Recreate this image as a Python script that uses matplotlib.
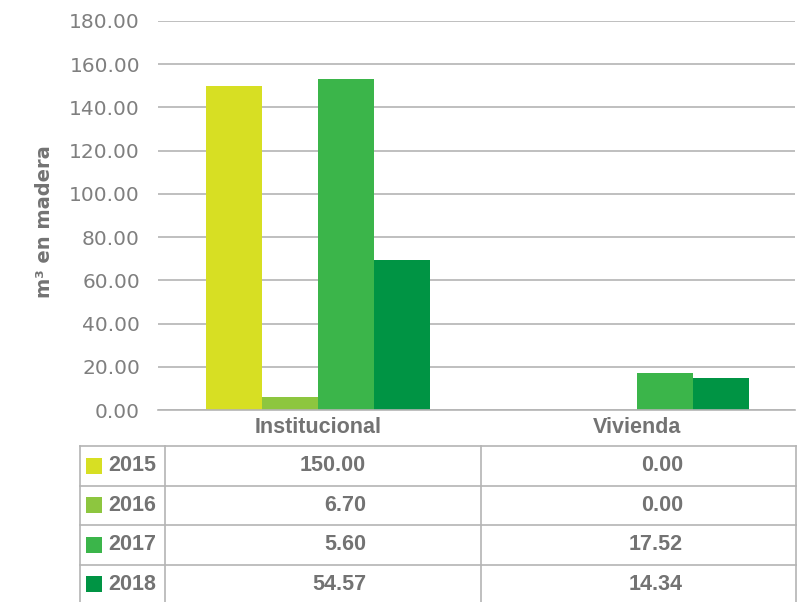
import matplotlib
matplotlib.use("Agg")

import matplotlib.pyplot as plt
import numpy as np

# Data
categories = ["Institucional", "Vivienda"]
years = ["2015", "2016", "2017", "2018"]
bar_2015 = [150.0, 0.0]
bar_2016 = [6.0, 0.0]
bar_2017 = [153.2, 17.2]
bar_2018 = [69.4, 14.8]
# values printed in the data table (as shown in the original)
table_institucional = ["150.00", "6.70", "5.60", "54.57"]
table_vivienda = ["0.00", "0.00", "17.52", "14.34"]

COLORS = ["#d7df23", "#8dc63f", "#3bb54a", "#009444"]
GRID = "#b4b4b4"
TEXT = "#7f7f7f"
BOLD_TEXT = "#737373"
W, H = 810, 602

fig = plt.figure(figsize=(W / 100, H / 100), dpi=100, facecolor="white")
ax = fig.add_axes([158 / W, 1 - 410 / H, (795 - 158) / W, (410 - 21) / H])

series = [bar_2015, bar_2016, bar_2017, bar_2018]
x = np.arange(len(categories))
bw = 0.176
for i, vals in enumerate(series):
    ax.bar(x + (i - 1.5) * bw, vals, width=bw, color=COLORS[i], zorder=3)

ax.set_xlim(-0.503, 1.497)
ax.set_ylim(0, 180)
ax.set_yticks(np.arange(0, 181, 20))
ax.set_yticklabels([f"{v:.2f}" for v in np.arange(0, 181, 20)],
                   fontsize=14.5, color=TEXT, family="DejaVu Sans")
ax.set_xticks(x)
ax.set_xticklabels(categories, fontsize=15.5, fontweight="bold",
                   color=BOLD_TEXT, family="Liberation Sans")
ax.tick_params(axis="y", length=0, pad=13)
ax.tick_params(axis="x", length=0, pad=5)
ax.grid(axis="y", color=GRID, linewidth=1.2, zorder=0)
for s in ["top", "right", "left"]:
    ax.spines[s].set_visible(False)
ax.spines["bottom"].set_color(GRID)
ax.spines["bottom"].set_linewidth(1.2)
ax.spines["bottom"].set_zorder(4)

fig.text(45 / W, 1 - 222 / H, "m³ en madera", rotation=90, ha="center", va="center",
         fontsize=14, fontweight="bold", color=BOLD_TEXT, family="DejaVu Sans")

# Data table underneath, drawn in pixel coordinates
tab = fig.add_axes([0, 0, 1, 1], facecolor="none")
tab.set_xlim(0, W)
tab.set_ylim(H, 0)
tab.axis("off")

row_edges = [446, 485.5, 525, 564.5, 604]
col_edges = [80, 165, 481, 796]
for y in row_edges[:-1]:
    tab.plot([col_edges[0], col_edges[-1]], [y, y], color=GRID, lw=1.2)
for cx in col_edges:
    tab.plot([cx, cx], [row_edges[0], H], color=GRID, lw=1.2)

for i, yr in enumerate(years):
    yc = (row_edges[i] + row_edges[i + 1]) / 2
    tab.add_patch(plt.Rectangle((86, yc - 8), 16, 16, color=COLORS[i], lw=0))
    tab.text(108, yc, yr, ha="left", va="center", fontsize=15.5, fontweight="bold",
             color=BOLD_TEXT, family="Liberation Sans")
    tab.text(366, yc, table_institucional[i], ha="right", va="center", fontsize=15.5,
             fontweight="bold", color=BOLD_TEXT, family="Liberation Sans")
    tab.text(683, yc, table_vivienda[i], ha="right", va="center", fontsize=15.5,
             fontweight="bold", color=BOLD_TEXT, family="Liberation Sans")

fig.savefig("out.png", dpi=100, facecolor="white")
